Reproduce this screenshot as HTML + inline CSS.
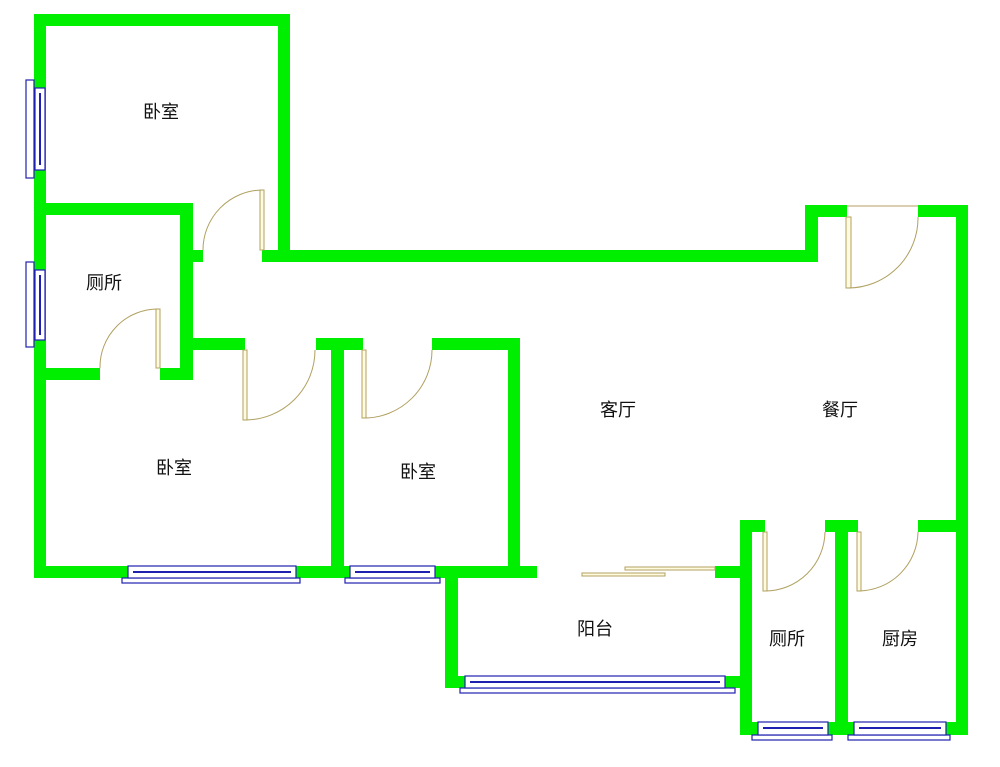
<!DOCTYPE html>
<html><head><meta charset="utf-8"><style>
html,body{margin:0;padding:0;background:#fff;}
svg{display:block;}
text{font-family:"Liberation Sans","Noto Sans CJK SC",sans-serif;font-size:18px;fill:#111;}
</style></head><body>
<svg width="1000" height="767" viewBox="0 0 1000 767" xmlns="http://www.w3.org/2000/svg">
<g fill="#00ee00">
<rect x="34" y="14" width="256" height="12"/>
<rect x="278" y="14" width="12" height="248"/>
<rect x="34" y="14" width="12" height="564"/>
<rect x="262" y="250" width="556" height="12"/>
<rect x="805" y="205" width="13" height="57"/>
<rect x="805" y="205" width="42" height="12"/>
<rect x="918" y="205" width="50" height="12"/>
<rect x="956" y="205" width="12" height="530"/>
<rect x="34" y="203" width="159" height="12"/>
<rect x="180" y="203" width="13" height="177"/>
<rect x="180" y="250" width="23" height="12"/>
<rect x="34" y="368" width="66" height="12"/>
<rect x="160" y="368" width="33" height="12"/>
<rect x="193" y="338" width="52" height="12"/>
<rect x="316" y="338" width="47" height="12"/>
<rect x="331" y="338" width="13" height="240"/>
<rect x="432" y="338" width="88" height="12"/>
<rect x="508" y="338" width="12" height="240"/>
<rect x="34" y="566" width="503" height="12"/>
<rect x="445" y="566" width="13" height="122"/>
<rect x="445" y="676" width="305" height="12"/>
<rect x="715" y="566" width="37" height="12"/>
<rect x="740" y="520" width="12" height="215"/>
<rect x="740" y="520" width="25" height="12"/>
<rect x="825" y="520" width="33" height="12"/>
<rect x="835" y="520" width="13" height="215"/>
<rect x="918" y="520" width="50" height="12"/>
<rect x="740" y="722" width="228" height="13"/>
</g>
<g fill="#fff" stroke="#2020b0" stroke-width="1.2">
<rect x="26" y="80" width="8" height="98"/>
<rect x="35" y="88" width="10" height="82"/>
<rect x="26" y="262" width="8" height="85"/>
<rect x="35" y="270" width="10" height="70"/>
<rect x="122" y="578" width="178" height="5"/>
<rect x="128" y="566" width="168" height="12"/>
<rect x="345" y="578" width="95" height="5"/>
<rect x="350" y="566" width="85" height="12"/>
<rect x="460" y="688" width="275" height="5"/>
<rect x="465" y="676" width="260" height="12"/>
<rect x="752" y="735" width="80" height="5"/>
<rect x="758" y="722" width="70" height="13"/>
<rect x="848" y="735" width="102" height="5"/>
<rect x="854" y="722" width="92" height="13"/>
</g>
<g stroke="#2020b0" stroke-width="2">
<line x1="40" y1="93" x2="40" y2="165"/>
<line x1="40" y1="275" x2="40" y2="335"/>
<line x1="133" y1="572" x2="291" y2="572"/>
<line x1="355" y1="572" x2="430" y2="572"/>
<line x1="470" y1="682" x2="720" y2="682"/>
<line x1="763" y1="728" x2="823" y2="728"/>
<line x1="859" y1="728" x2="941" y2="728"/>
</g>
<g fill="none" stroke="#b0a060" stroke-width="1">
<rect x="260" y="190" width="4" height="60" fill="#fffbe0"/>
<path d="M262 190 A60 60 0 0 0 203 250"/>
<rect x="156" y="309" width="4" height="59" fill="#fffbe0"/>
<path d="M158 309 A58 58 0 0 0 100 368"/>
<rect x="243" y="350" width="4" height="70" fill="#fffbe0"/>
<path d="M245 420 A70 70 0 0 0 315 350"/>
<rect x="362" y="350" width="4" height="68" fill="#fffbe0"/>
<path d="M364 418 A68 68 0 0 0 432 350"/>
<rect x="846" y="217" width="5" height="71" fill="#fffbe0"/>
<path d="M848 288 A70 70 0 0 0 918 217"/>
<line x1="847" y1="206" x2="918" y2="206"/>
<rect x="763" y="532" width="4" height="59" fill="#fffbe0"/>
<path d="M765 591 A60 60 0 0 0 825 532"/>
<rect x="857" y="532" width="4" height="59" fill="#fffbe0"/>
<path d="M859 591 A60 60 0 0 0 918 532"/>
<rect x="582" y="573" width="83" height="3" fill="#fffbe0"/>
<rect x="625" y="567" width="90" height="3" fill="#fffbe0"/>
</g>
<text x="143" y="118">卧室</text>
<text x="86" y="289">厕所</text>
<text x="156" y="474">卧室</text>
<text x="400" y="478">卧室</text>
<text x="600" y="416">客厅</text>
<text x="822" y="416">餐厅</text>
<text x="577" y="635">阳台</text>
<text x="769" y="645">厕所</text>
<text x="882" y="645">厨房</text>
</svg>
</body></html>
